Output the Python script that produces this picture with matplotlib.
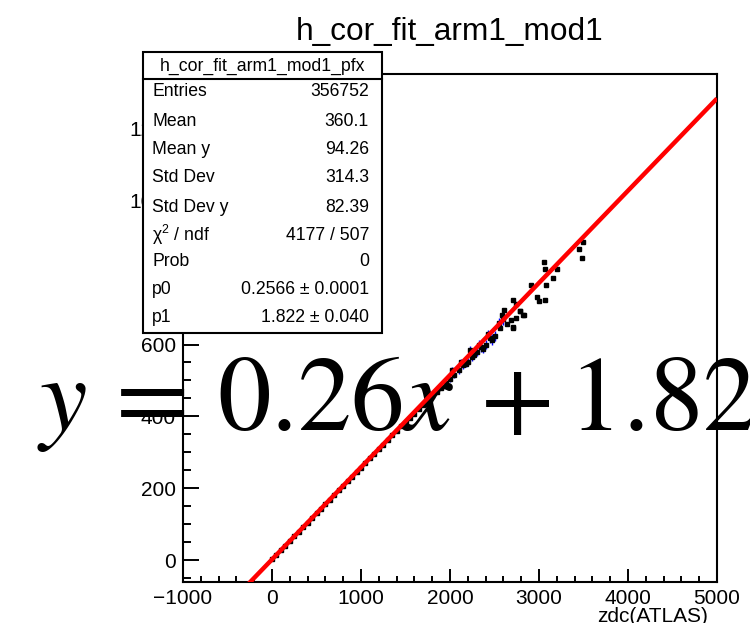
import numpy as np
import matplotlib.pyplot as plt
from matplotlib.ticker import MultipleLocator

plt.rcParams['font.family'] = ['Liberation Sans', 'DejaVu Sans']

# profile points (zdc ATLAS vs arm1 mod1)
prof_x = [0, 50, 100, 150, 200, 250, 300, 350, 400, 450, 500, 550, 600, 650, 700,
          750, 800, 850, 900, 950, 1000, 1050, 1100, 1150, 1200, 1250, 1300, 1350,
          1400, 1450, 1500, 1550, 1600, 1650, 1700, 1750, 1800, 1850, 1900, 1950,
          2000, 2025, 2050, 2100, 2125, 2150, 2175, 2200, 2225, 2250, 2275, 2300,
          2325, 2350, 2375, 2400, 2425, 2450, 2475, 2500, 2550, 2600]
prof_y = [2, 15, 28, 40, 53, 66, 79, 92, 104, 117, 130, 143, 155, 168, 181,
          194, 206, 219, 232, 245, 257, 270, 283, 296, 309, 321, 334, 347,
          359, 372, 384, 396, 408, 420, 432, 444, 456, 468, 480, 493,
          504, 530, 516, 528, 552, 542, 547, 552, 585, 566, 572, 578,
          600, 592, 588, 600, 628, 618, 614, 624, 660, 670]
prof_err = [1, 1, 1, 1, 1, 1, 1, 1, 1, 1, 1, 1, 1, 1, 1,
            1, 1, 1, 1, 1, 2, 2, 2, 2, 2, 2, 2, 2,
            2, 2, 3, 3, 4, 4, 5, 5, 6, 6, 7, 7,
            8, 8, 8, 9, 9, 9, 10, 10, 10, 11, 11, 11,
            12, 12, 12, 12, 13, 13, 14, 14, 14, 15]

# sparse high-x bins
tail_x = [3494, 3449, 3483, 3056, 3067, 3202, 3157, 3079, 2910, 2978, 3000, 3067,
          2708, 2742, 2607, 2584, 2787, 2831, 2708, 2820, 2787, 2742, 2685, 2640,
          2562, 2708]
tail_y = [886, 867, 842, 831, 811, 811, 786, 767, 767, 731, 722, 725,
          725, 714, 697, 683, 694, 681, 650, 681, 692, 675, 667, 658,
          647, 647]

# fit result
p0 = 0.2566
p1 = 1.822
stats_labels = ['Entries', 'Mean', 'Mean y', 'Std Dev', 'Std Dev y',
                r'$\mathregular{\chi^{2}}$ / ndf', 'Prob', 'p0', 'p1']
stats_values = ['356752', '360.1', '94.26', '314.3', '82.39', '4177 / 507',
                '0', '0.2566 \u00b1 0.0001', '1.822 \u00b1 0.040']

fig = plt.figure(figsize=(7.5, 6.23), dpi=100)
ax = fig.add_axes([0.244, 0.0658, 0.712, 0.8154])
ax.set_facecolor('none')

ax.errorbar(prof_x, prof_y, yerr=prof_err, fmt='s', color='black', ms=2.2,
            ecolor='blue', elinewidth=1, capsize=0, zorder=3)
ax.plot(tail_x, tail_y, 's', color='black', ms=2.2, zorder=3)

fx = np.array([-1000, 5000])
ax.plot(fx, p0 * fx + p1, color='red', lw=3.2, zorder=4, solid_capstyle='butt')

ax.set_xlim(-1000, 5000)
ax.set_ylim(-61, 1353)
ax.xaxis.set_major_locator(MultipleLocator(1000))
ax.xaxis.set_minor_locator(MultipleLocator(200))
ax.yaxis.set_major_locator(MultipleLocator(200))
ax.yaxis.set_minor_locator(MultipleLocator(50))
ax.tick_params(axis='both', which='both', direction='in', width=1.4,
               labelsize=15, pad=5)
ax.tick_params(axis='x', which='major', length=9.5)
ax.tick_params(axis='x', which='minor', length=4.5)
ax.tick_params(axis='y', which='major', length=11.5)
ax.tick_params(axis='y', which='minor', length=5.8)
for s in ax.spines.values():
    s.set_linewidth(1.5)
ax.set_xlabel('zdc(ATLAS)', loc='right', fontsize=15)
ax.xaxis.set_label_coords(0.983, -0.05)

# big fit formula
ax.text(0.049, 0.3098, r'$y\,=\,0.26x\,+1.82$', transform=fig.transFigure,
        fontsize=77, math_fontfamily='stix', ha='left', va='baseline',
        clip_on=False, zorder=1)

fig.text(0.6, 0.9486, 'h_cor_fit_arm1_mod1', ha='center', va='center',
         fontsize=22.8)

# stats box
bl, br, bt, bb = 143 / 750, 382 / 750, 1 - 52 / 623, 1 - 333 / 623
box = plt.Rectangle((bl, bb), br - bl, bt - bb, transform=fig.transFigure,
                    facecolor='white', edgecolor='black', lw=1.5, zorder=10)
fig.add_artist(box)
fig.add_artist(plt.Line2D([bl, br], [1 - 79 / 623] * 2, transform=fig.transFigure,
                          color='black', lw=1.5, zorder=11))
fig.text((bl + br) / 2, 1 - 66 / 623, 'h_cor_fit_arm1_mod1_pfx', ha='center',
         va='center', fontsize=12.7, zorder=12)
rows = [92, 121, 149, 177, 207, 235, 261, 289, 318]
for lab, val, r in zip(stats_labels, stats_values, rows):
    fig.text(152 / 750, 1 - r / 623, lab, ha='left', va='center', fontsize=12.7,
             zorder=12)
    fig.text(369 / 750, 1 - r / 623, val, ha='right', va='center', fontsize=12.7,
             zorder=12)

fig.savefig('out.png', dpi=100)
